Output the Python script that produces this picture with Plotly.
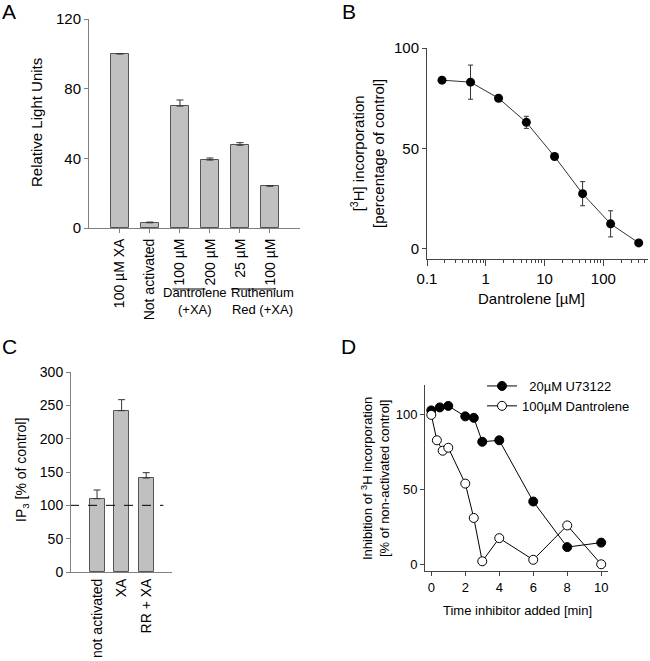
import plotly.graph_objects as go

W, H = 650, 661


def px(x):
    return x / W


def py(y):
    return 1 - y / H


# ---------------- data ----------------
# Panel A
a_labels = ["100 µM XA", "Not activated", "100 µM", "200 µM", "25 µM", "100 µM"]
a_values = [100, 3, 70, 39, 47.5, 24]
a_errors = [0, 0.4, 3.5, 1.2, 1.5, 0.3]

# Panel B
b_dantrolene_uM = [0.18, 0.55, 1.65, 4.9, 14.8, 44.4, 133, 400]
b_incorporation = [84, 83, 75, 63, 46, 27.5, 12.5, 3]
b_errors = [0, 8.5, 0, 3, 0, 6, 6.5, 0]
b_ticks = [0.1, 1, 10, 100]

# Panel C
c_labels = ["not activated", "XA", "RR + XA"]
c_values = [110, 242, 141]
c_errors = [13, 16.5, 8]

# Panel D
d_time_u73122 = [0, 0.5, 1, 2, 2.5, 3, 4, 6, 8, 10]
d_u73122 = [103, 105, 106, 99, 98, 82, 83, 42, 11.5, 14.5]
d_time_dantrolene = [0, 0.33, 0.67, 1, 2, 2.5, 3, 4, 6, 8, 10]
d_dantrolene = [100, 83, 76, 78, 54, 31, 2, 17.5, 3, 26, 0]

FONT = "Arial, Liberation Sans, sans-serif"
BAR_FILL = "#c0c0c0"
BAR_LINE = "#555555"
AX_A = "#808080"
AX_D = "#444444"

fig = go.Figure()

# ---------------- Panel A ----------------
a_x = list(range(len(a_labels)))
fig.add_trace(go.Bar(
    x=a_x, y=a_values, width=0.6,
    marker=dict(color=BAR_FILL, line=dict(color=BAR_LINE, width=1)),
    error_y=dict(type="data", array=a_errors, arrayminus=[0] * len(a_errors),
                 symmetric=False, color="#333333", thickness=1, width=3.5),
    xaxis="x", yaxis="y", showlegend=False, hoverinfo="skip"))

# ---------------- Panel B ----------------
fig.add_trace(go.Scatter(
    x=b_dantrolene_uM, y=b_incorporation, mode="lines+markers",
    line=dict(color="#333333", width=1),
    marker=dict(color="black", size=9),
    error_y=dict(type="data", array=b_errors, color="#333333", thickness=1, width=2.5),
    xaxis="x2", yaxis="y2", showlegend=False, hoverinfo="skip"))

# ---------------- Panel C ----------------
c_x = list(range(len(c_labels)))
fig.add_trace(go.Bar(
    x=c_x, y=c_values, width=0.61,
    marker=dict(color=BAR_FILL, line=dict(color=BAR_LINE, width=1)),
    error_y=dict(type="data", array=c_errors, arrayminus=[0] * len(c_errors),
                 symmetric=False, color="#333333", thickness=1, width=3.5),
    xaxis="x3", yaxis="y3", showlegend=False, hoverinfo="skip"))

# ---------------- Panel D ----------------
fig.add_trace(go.Scatter(
    x=d_time_u73122, y=d_u73122, mode="lines+markers", name="\u00a0\u00a020µM U73122",
    line=dict(color="black", width=1),
    marker=dict(color="black", size=9, line=dict(color="black", width=1)),
    xaxis="x4", yaxis="y4", hoverinfo="skip"))
fig.add_trace(go.Scatter(
    x=d_time_dantrolene, y=d_dantrolene, mode="lines+markers", name="100µM Dantrolene",
    line=dict(color="black", width=1),
    marker=dict(color="white", size=9, line=dict(color="black", width=1)),
    xaxis="x4", yaxis="y4", hoverinfo="skip"))


def axis_common(color, size):
    return dict(showline=True, linecolor=color, linewidth=1, ticks="outside",
                tickcolor=color, tickwidth=1, showgrid=False, zeroline=False,
                automargin=False,
                tickfont=dict(family=FONT, size=size, color="black"))


fig.update_layout(
    width=W, height=H,
    margin=dict(l=0, r=0, t=0, b=0, pad=0, autoexpand=False),
    paper_bgcolor="white", plot_bgcolor="white",
    font=dict(family=FONT, color="black"),
    bargap=0,
    xaxis=dict(domain=[px(89), px(300)], anchor="y", range=[-1.03, 6.0],
               tickmode="array", tickvals=a_x, ticktext=a_labels, tickangle=-90,
               ticklen=4, **axis_common(AX_A, 14)),
    yaxis=dict(domain=[py(228), py(19)], anchor="x", range=[0, 120],
               tickvals=[0, 40, 80, 120], ticklen=4, **axis_common(AX_A, 15)),
    xaxis2=dict(domain=[px(427), px(648)], anchor="y2", type="log", range=[-1, 2.76],
                tickmode="array", tickvals=b_ticks, ticktext=[str(t) for t in b_ticks],
                ticklen=6,
                minor=dict(ticks="outside", ticklen=3, tickcolor=AX_D, dtick="D1", showgrid=False),
                **axis_common(AX_D, 15)),
    yaxis2=dict(domain=[py(259), py(48)], anchor="x2", range=[-5, 100],
                tickvals=[0, 50, 100], ticklen=4, **axis_common(AX_D, 15)),
    xaxis3=dict(domain=[px(71), px(172)], anchor="y3", range=[-1.06, 3.05],
                tickmode="array", tickvals=c_x, ticktext=c_labels, tickangle=-90,
                ticklen=0, **axis_common(AX_A, 14)),
    yaxis3=dict(domain=[py(572), py(372)], anchor="x3", range=[0, 300],
                tickvals=[0, 50, 100, 150, 200, 250, 300], ticklen=4,
                **axis_common(AX_A, 14)),
    xaxis4=dict(domain=[px(425), px(608)], anchor="y4", range=[-0.37, 10.4],
                tickvals=[0, 2, 4, 6, 8, 10], ticklen=4, **axis_common(AX_D, 13)),
    yaxis4=dict(domain=[py(571), py(385)], anchor="x4", range=[-4.5, 120],
                tickvals=[0, 50, 100], ticklen=4, **axis_common(AX_D, 13)),
    showlegend=True,
    legend=dict(x=px(482), y=py(371), xanchor="left", yanchor="top",
                bgcolor="rgba(0,0,0,0)", font=dict(family=FONT, size=13, color="black"),
                tracegroupgap=0, itemclick=False),
)

shapes = []
# group lines under panel A labels
for x0, x1 in [(1.75, 2.85), (3.7, 5.2)]:
    shapes.append(dict(type="line", xref="x", yref="paper", x0=x0, x1=x1,
                       y0=py(289), y1=py(289), line=dict(color="black", width=1)))
# dashed 100 % line in panel C
shapes.append(dict(type="line", xref="x3", yref="y3", x0=-1.1, x1=2.7, y0=100, y1=100,
                   line=dict(color="black", width=1, dash="dash")))
fig.update_layout(shapes=shapes)

ann = []


def text(x, y, s, size=14, angle=0, xanchor="center"):
    ann.append(dict(x=px(x), y=py(y), xref="paper", yref="paper", text=s, showarrow=False,
                    textangle=angle, xanchor=xanchor, yanchor="middle",
                    font=dict(family=FONT, size=size, color="black")))


# panel letters
text(9, 12, "A", 21)
text(349, 12, "B", 21)
text(9, 346, "C", 21)
text(348, 346, "D", 21)

# Panel A titles
text(36, 123, "Relative Light Units", 15, -90)
text(195, 301, "Dantrolene<br>(+XA)", 13)
text(262, 301, "Ruthenium<br>Red (+XA)", 13)

# Panel B titles
text(367, 154, "[<sup>3</sup>H] incorporation<br>[percentage of control]", 15, -90)
text(531, 298, "Dantrolene [µM]", 15)

# Panel C title
text(22, 470, "IP<sub>3</sub> [% of control]", 14, -90)

# Panel D titles
text(375, 478, "Inhibition of <sup>3</sup>H incorporation<br>[% of non-activated control]", 13, -90)
text(517, 610, "Time inhibitor added [min]", 13)

fig.update_layout(annotations=ann)

fig.write_html("out.html", config={"displayModeBar": False},
               post_script="document.body.style.margin='0px';")
